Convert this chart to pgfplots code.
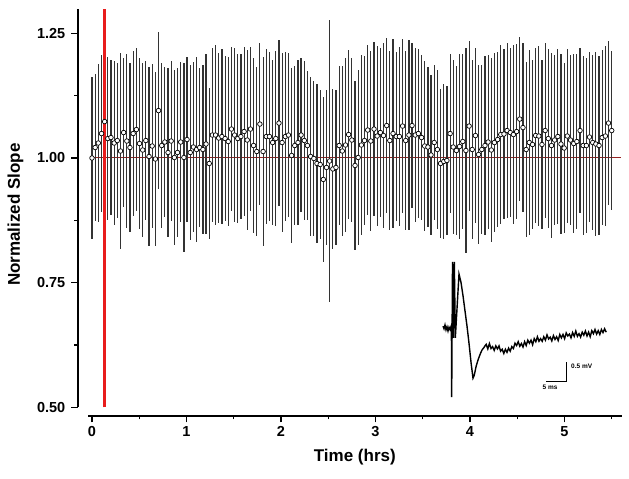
\documentclass[border=0pt]{standalone}
\usepackage{pgfplots}
\pgfplotsset{compat=1.18}
\usepackage{pgfplotstable}
\usepackage{fontspec}
\setmainfont{Liberation Sans}
\definecolor{dred}{RGB}{150,35,35}
\definecolor{vred}{RGB}{232,28,28}

\pgfplotstableread{
x y e
0.000 1.000 .163
0.034 1.021 .148
0.067 1.030 .158
0.101 1.049 .158
0.134 1.073 .140
0.168 1.039 .164
0.201 1.041 .156
0.235 1.030 .165
0.268 1.035 .156
0.302 1.014 .196
0.335 1.051 .150
0.369 1.034 .175
0.402 1.021 .170
0.436 1.049 .165
0.470 1.057 .163
0.503 1.029 .172
0.537 1.016 .175
0.570 1.035 .160
0.604 1.003 .180
0.637 1.024 .165
0.671 0.998 .175
0.704 1.095 .158
0.738 1.025 .165
0.771 1.032 .150
0.805 1.011 .170
0.838 1.034 .160
0.872 1.001 .175
0.905 1.011 .170
0.939 1.032 .160
0.973 1.001 .190
1.006 1.037 .165
1.040 1.011 .175
1.073 1.022 .170
1.107 1.017 .185
1.140 1.021 .160
1.174 1.017 .170
1.207 1.028 .180
1.241 0.989 .152
1.274 1.046 .175
1.308 1.046 .180
1.341 1.040 .170
1.375 1.043 .175
1.409 1.039 .165
1.442 1.033 .170
1.476 1.058 .165
1.509 1.046 .175
1.543 1.039 .170
1.576 1.043 .165
1.610 1.053 .170
1.643 1.036 .180
1.677 1.058 .165
1.710 1.025 .175
1.744 1.013 .170
1.777 1.068 .162
1.811 1.013 .190
1.845 1.043 .175
1.878 1.043 .170
1.912 1.031 .165
1.945 1.039 .175
1.979 1.070 .167
2.012 1.031 .180
2.046 1.043 .170
2.079 1.046 .165
2.113 1.005 .175
2.146 1.025 .160
2.180 1.031 .165
2.213 1.046 .155
2.247 1.035 .160
2.280 1.025 .150
2.314 1.003 .160
2.348 0.999 .155
2.381 0.989 .160
2.415 0.987 .150
2.448 0.957 .165
2.482 0.981 .155
2.515 0.994 .283
2.549 0.978 .160
2.582 0.981 .155
2.616 1.025 .160
2.649 1.014 .170
2.683 1.026 .175
2.716 1.047 .170
2.750 1.036 .165
2.784 0.985 .170
2.817 1.001 .175
2.851 1.026 .180
2.884 1.035 .170
2.918 1.056 .170
2.951 1.034 .180
2.985 1.058 .175
3.018 1.044 .180
3.052 1.051 .170
3.085 1.045 .185
3.119 1.065 .175
3.152 1.035 .180
3.186 1.049 .190
3.220 1.043 .170
3.253 1.043 .180
3.287 1.064 .175
3.320 1.035 .180
3.354 1.046 .190
3.387 1.065 .165
3.421 1.046 .175
3.454 1.049 .170
3.488 1.041 .165
3.521 1.024 .170
3.555 1.022 .160
3.588 1.006 .160
3.622 1.031 .155
3.655 1.017 .160
3.689 0.989 .150
3.723 0.993 .155
3.756 0.995 .150
3.790 1.049 .160
3.823 1.022 .175
3.857 1.015 .170
3.890 1.023 .185
3.924 1.033 .175
3.957 1.015 .205
3.991 1.064 .170
4.024 1.017 .180
4.058 1.045 .175
4.091 1.007 .180
4.125 1.017 .170
4.159 1.025 .180
4.192 1.032 .175
4.226 1.016 .185
4.259 1.031 .180
4.293 1.037 .175
4.326 1.047 .180
4.360 1.048 .170
4.393 1.055 .175
4.427 1.051 .170
4.460 1.047 .180
4.494 1.053 .175
4.527 1.078 .165
4.561 1.061 .170
4.595 1.017 .175
4.628 1.031 .185
4.662 1.027 .170
4.695 1.045 .175
4.729 1.044 .180
4.762 1.027 .170
4.796 1.055 .175
4.829 1.039 .180
4.863 1.025 .185
4.896 1.036 .170
4.930 1.043 .175
4.963 1.028 .180
4.997 1.020 .170
5.030 1.044 .175
5.064 1.036 .170
5.098 1.029 .180
5.131 1.033 .175
5.165 1.055 .165
5.198 1.025 .180
5.232 1.025 .175
5.265 1.042 .170
5.299 1.031 .175
5.332 1.028 .185
5.366 1.025 .180
5.399 1.041 .175
5.433 1.044 .180
5.466 1.070 .165
5.500 1.055 .160
}\slope

\pgfplotstableread{
t v
0.00 0.05
0.25 -0.02
0.50 0.08
0.75 -0.05
1.00 0.03
1.25 -0.08
1.50 0.02
1.75 -0.04
2.00 0.04
2.10 -0.05
2.17 -1.82
2.38 1.74
2.58 -0.26
2.83 1.74
3.08 -0.26
4.00 1.42
4.50 1.20
5.00 0.85
5.50 0.45
6.00 0.05
6.50 -0.40
7.00 -0.90
7.50 -1.32
7.80 -1.25
8.30 -1.00
8.70 -0.86
9.00 -0.77
9.40 -0.66
9.80 -0.57
10.20 -0.52
10.50 -0.47
10.8 -0.43
11.2 -0.55
11.6 -0.41
12.0 -0.54
12.4 -0.49
12.8 -0.59
13.2 -0.47
13.6 -0.55
14.0 -0.47
14.4 -0.61
14.8 -0.56
15.2 -0.67
15.6 -0.56
16.0 -0.64
16.4 -0.53
16.8 -0.61
17.2 -0.49
17.6 -0.54
18.0 -0.40
18.4 -0.46
18.8 -0.36
19.2 -0.48
19.6 -0.41
20.0 -0.50
20.4 -0.36
20.8 -0.46
21.2 -0.32
21.6 -0.40
22.0 -0.32
22.4 -0.44
22.8 -0.28
23.2 -0.36
23.6 -0.23
24.0 -0.35
24.4 -0.28
24.8 -0.35
25.2 -0.23
25.6 -0.32
26.0 -0.18
26.4 -0.29
26.8 -0.24
27.2 -0.34
27.6 -0.20
28.0 -0.30
28.4 -0.23
28.8 -0.33
29.2 -0.17
29.6 -0.26
30.0 -0.17
30.4 -0.28
30.8 -0.13
31.2 -0.21
31.6 -0.16
32.0 -0.26
32.4 -0.12
32.8 -0.22
33.2 -0.08
33.6 -0.22
34.0 -0.15
34.4 -0.24
34.8 -0.11
35.2 -0.19
35.6 -0.08
36.0 -0.21
36.4 -0.11
36.8 -0.23
37.2 -0.07
37.6 -0.15
38.0 -0.04
38.4 -0.16
38.8 -0.07
39.2 -0.17
39.6 -0.04
40.0 -0.12
40.4 -0.02
40.8 -0.11
}\trace

\begin{document}
\begin{tikzpicture}[x=1pt,y=1pt]
\path[use as bounding box] (0,0) rectangle (629,479);
\begin{axis}[
  at={(77.8pt,63pt)}, anchor=south west, scale only axis,
  width=544.3pt, height=407pt,
  xmin=-0.15, xmax=5.61, ymin=0.4828, ymax=1.2987,
  axis x line*=bottom, axis y line*=left, axis line style={draw=none},
  xtick={0,1,2,3,4,5}, xticklabels={0,1,2,3,4,5},
  minor xtick={0.5,1.5,2.5,3.5,4.5,5.5},
  ytick={0.5,0.75,1,1.25}, yticklabels={0.50,0.75,1.00,1.25},
  minor ytick={0.625,0.875,1.125},
  tick align=outside, major tick length=6.5pt, minor tick length=3.5pt,
  every tick/.style={black, line width=1.3pt},
  tick label style={font=\fontsize{14.5}{17}\selectfont\bfseries},
  yticklabel style={xshift=-2.5pt},
  /pgf/number format/assume math mode=true,
  clip=false,
  xlabel={Time (hrs)}, ylabel={Normalized Slope},
  label style={font=\fontsize{17}{20}\selectfont\bfseries},
  xlabel style={at={(axis description cs:0.509,-0.1007)}, anchor=center},
  ylabel style={at={(axis description cs:-0.1145,0.495)}, anchor=center},
]
\draw[line width=1.5pt] (axis cs:-0.15,0.5) -- (axis cs:-0.15,1.2987);
\draw[line width=1.5pt] (axis cs:-0.04,0.4828) -- (axis cs:5.61,0.4828);
\addplot[dred, line width=1pt] coordinates {(-0.02,1) (5.60,1)};
\addplot[only marks, mark=*, mark size=2.3pt,
  mark options={fill=white, draw=black, line width=0.7pt},
  error bars/.cd, y dir=both, y explicit, error mark=none,
  error bar style={line width=1.2pt, black!80}]
  table[x=x, y=y, y error=e] {\slope};
\addplot[vred, line width=2.3pt] coordinates {(0.132,0.5) (0.132,1.2987)};
\end{axis}
\begin{axis}[
  at={(443pt,75pt)}, anchor=south west, scale only axis,
  width=180pt, height=152pt,
  xmin=0, xmax=45, ymin=-2, ymax=2,
  hide axis, clip=false,
]
\addplot[black, line width=1.4pt] table[x=t, y=v] {\trace};
\addplot[black, line width=0.8pt] coordinates {(25.75,-1.395) (30.75,-1.395) (30.75,-0.895)};
\node[anchor=west, inner sep=0pt, font=\fontsize{6.5}{7}\selectfont\bfseries] at (axis cs:32.0,-1.0) {0.5 mV};
\node[anchor=center, inner sep=0pt, font=\fontsize{6.5}{7}\selectfont\bfseries] at (axis cs:26.75,-1.55) {5 ms};
\end{axis}
\end{tikzpicture}
\end{document}
